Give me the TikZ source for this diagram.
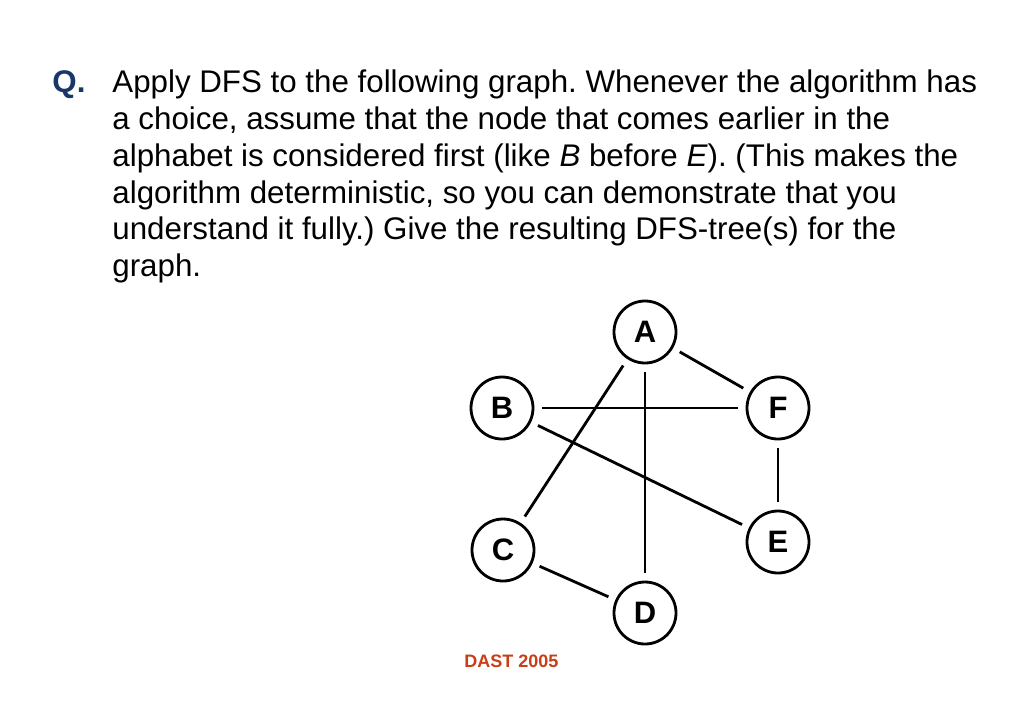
\documentclass[tikz,border=0pt]{standalone}
\usepackage{fontspec}
\setmainfont{Liberation Sans}
\frenchspacing
\definecolor{qblue}{RGB}{25,55,105}
\definecolor{dastred}{RGB}{200,62,22}
\tikzset{
    vertex/.style={circle, draw, line width=1.4pt, minimum size=31pt, inner sep=0pt,
        outer sep=4.5pt, font=\fontsize{15.5}{18}\selectfont\bfseries},
    edge/.style={line width=1.4pt},
    qtext/.style={anchor=base west, inner sep=0pt, font=\fontsize{15.65}{18.45}\selectfont}
}
\begin{document}
\begin{tikzpicture}[x=0.5pt, y=-0.5pt]
    \useasboundingbox (0,0) rectangle (1023,708);
    % question text, one node per printed line
    \node[qtext, text=qblue, font=\fontsize{15.65}{18.45}\selectfont\bfseries] (q) at (52,92.3) {Q.};
    \node[qtext] (l1) at (112,92.3) {Apply DFS to the following graph. Whenever the algorithm has};
    \node[qtext] (l2) at (112,129.2) {a choice, assume that the node that comes earlier in the};
    \node[qtext] (l3) at (112,166.1) {alphabet is considered first (like \textit{B} before \textit{E}). (This makes the};
    \node[qtext] (l4) at (112,203) {algorithm deterministic, so you can demonstrate that you};
    \node[qtext] (l5) at (112,239.9) {understand it fully.) Give the resulting DFS-tree(s) for the};
    \node[qtext] (l6) at (112,276.8) {graph.};
    % the graph
    \node[vertex] (A) at (645,332) {A};
    \node[vertex] (B) at (502,408) {B};
    \node[vertex] (F) at (778,408) {F};
    \node[vertex] (C) at (503,550) {C};
    \node[vertex] (E) at (778,542) {E};
    \node[vertex] (D) at (645,613) {D};
    \foreach \u/\v in {A/F, B/F, A/C, A/D, B/E, F/E, C/D}
        \draw[edge] (\u) -- (\v);
    % footer
    \node[anchor=base west, inner sep=0pt, text=dastred,
        font=\fontsize{9}{11}\selectfont\bfseries] (dast) at (464,667) {DAST 2005};
\end{tikzpicture}
\end{document}
